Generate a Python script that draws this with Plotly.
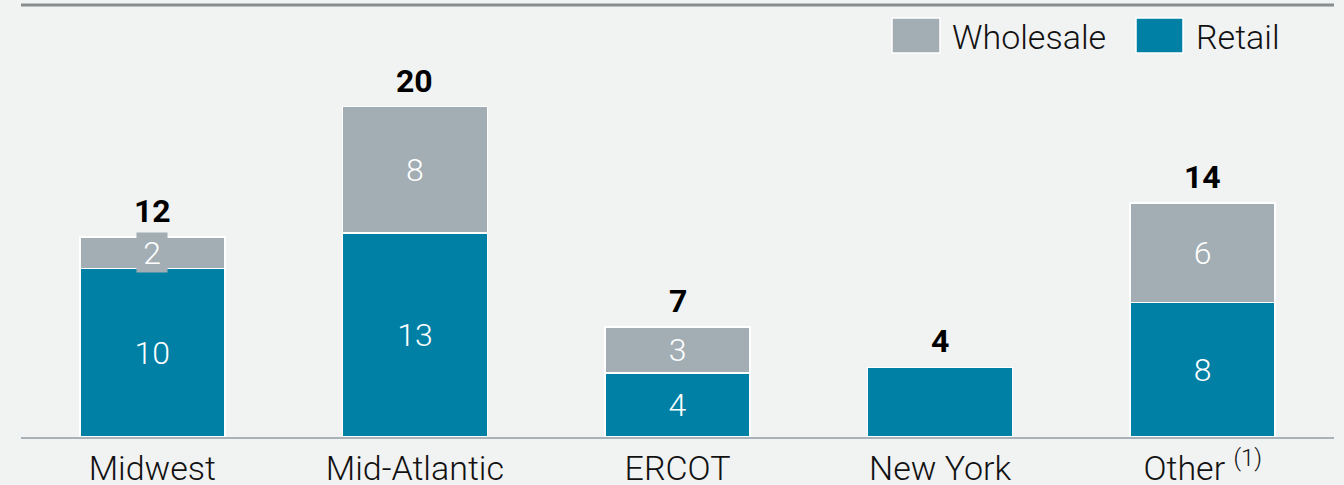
import plotly.graph_objects as go

categories = ["Midwest", "Mid-Atlantic", "ERCOT", "New York", "Other <sup>(1)</sup>"]
retail = [10.4, 12.6, 3.95, 4.3, 8.3]
wholesale = [1.95, 7.8, 2.85, 0, 6.15]
retail_labels = ["10", "13", "4", " ", "8"]
wholesale_labels = [" ", "8", "3", " ", "6"]
total_labels = ["12", "20", "7", "4", "14"]

RETAIL = "#0080a5"
WHOLESALE = "#a2adb4"
BG = "#f1f2f2"
FONT = "Roboto"

fig = go.Figure()
fig.add_trace(go.Bar(
    x=categories, y=retail, name="Retail", marker=dict(color=RETAIL, line=dict(color="white", width=1.5)),
    text=retail_labels, textposition="inside", insidetextanchor="middle", constraintext="none",
    textangle=0, textfont=dict(family=FONT, size=32, color="white", weight=300),
))
fig.add_trace(go.Bar(
    x=categories, y=wholesale, name="Wholesale", marker=dict(color=WHOLESALE, line=dict(color="white", width=1.5)),
    text=wholesale_labels, textposition="inside", insidetextanchor="middle", constraintext="none",
    textangle=0, textfont=dict(family=FONT, size=32, color="white", weight=300),
))

# totals above the stacks
for cat, r, w, lab in zip(categories, retail, wholesale, total_labels):
    fig.add_annotation(x=cat, y=r + w, text=lab, showarrow=False, yshift=26, yanchor="middle",
                       font=dict(family=FONT, size=32, color="black", weight="bold"))

# the small wholesale segment label sits on its own grey patch
fig.add_annotation(x=categories[0], y=retail[0] + wholesale[0] / 2, text="2", showarrow=False,
                   bgcolor=WHOLESALE, borderpad=0, width=30, height=39,
                   font=dict(family=FONT, size=32, color="white", weight=300))

# hand-made legend, top right
plot_l, plot_w, plot_b, plot_h = 21, 1313, 437, 432
def px_x(v):
    return (v - plot_l) / plot_w
def px_y(v):
    return (plot_b - v) / plot_h

for x0, x1, color, label, tx in [(892, 940, WHOLESALE, "Wholesale", 950), (1136, 1183, RETAIL, "Retail", 1194)]:
    fig.add_shape(type="rect", xref="paper", yref="paper", x0=px_x(x0), x1=px_x(x1), y0=px_y(53), y1=px_y(18),
                  fillcolor=color, line=dict(color="white", width=1.5))
    fig.add_annotation(xref="paper", yref="paper", x=px_x(tx), y=px_y(37), text=label, showarrow=False,
                       xanchor="left", yanchor="middle",
                       font=dict(family=FONT, size=34, color="#111111", weight=300))

fig.add_shape(type="line", xref="paper", yref="paper", x0=0, x1=1, y0=1, y1=1,
              line=dict(color="#8a8d90", width=3))

fig.update_layout(
    width=1344, height=485, barmode="stack", bargap=0.448, showlegend=False,
    margin=dict(l=21, r=10, t=5, b=48),
    paper_bgcolor=BG, plot_bgcolor=BG,
    font=dict(family=FONT, color="#111111"),
)
fig.update_xaxes(showline=True, linecolor="#a9b2b8", linewidth=2, ticks="", automargin=False,
                 ticklabelstandoff=0,
                 tickfont=dict(family=FONT, size=34, color="#111111", weight=300))
fig.update_yaxes(range=[0, 432 / 16.2], visible=False, showgrid=False)

fig.write_html("out.html", config={"displayModeBar": False},
               post_script="document.body.style.margin='0';")
